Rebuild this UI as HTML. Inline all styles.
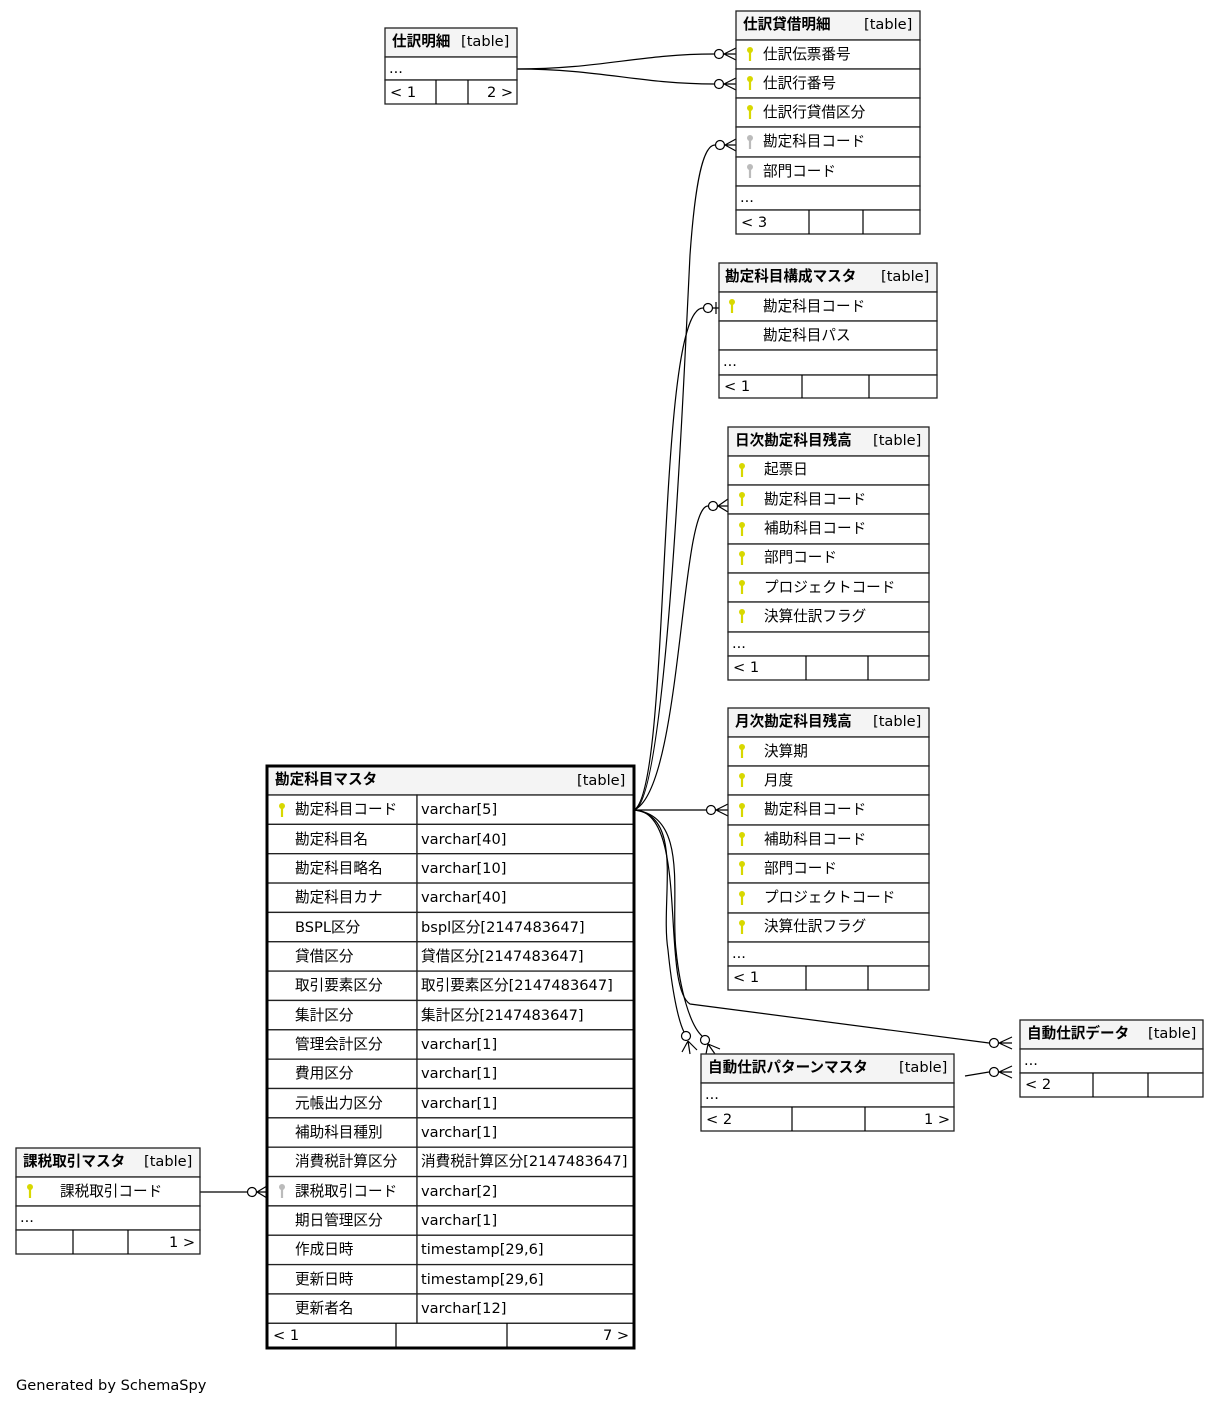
<!DOCTYPE html>
<html><head><meta charset="utf-8"><style>
html,body{margin:0;padding:0;background:#fff;width:1220px;height:1405px;overflow:hidden}
svg{display:block}
text{font-family:"DejaVu Sans","Liberation Sans","Noto Sans CJK JP",sans-serif;font-size:14.6px;fill:#000}
.b{font-weight:bold}
.ln{stroke:#000;stroke-width:1.2;fill:none}
.bx{fill:#fff;stroke:#222;stroke-width:1.3}
.hd{fill:#f4f4f4;stroke:#222;stroke-width:1.3}
</style></head><body>
<svg width="1220" height="1405" viewBox="0 0 1220 1405" xmlns="http://www.w3.org/2000/svg">
<defs>
<g id="ky"><circle cx="0" cy="-4" r="3" fill="#d8d800"/><rect x="-1.1" y="-3" width="2.2" height="10" fill="#d8d800"/></g>
<g id="kg"><circle cx="0" cy="-4" r="3" fill="#bbb"/><rect x="-1.1" y="-3" width="2.2" height="10" fill="#bbb"/></g>
</defs>

<g class="ln">
<path d="M517,69 C600,69 640,54 714,54"/>
<path d="M517,69 C600,69 640,84 714,84"/>
<path d="M634,810 C665,805 682,420 690,255 C696,170 705,145 715,145"/>
<path d="M634,810 C672,790 655,308 703,308"/>
<path d="M634,810 C682,790 680,506 708,506"/>
<path d="M634,810 L706,810"/>
<path d="M634,810 C690,810 660,985 690,1004 L989,1043"/>
<path d="M634,810 C685,815 660,900 668,950 C672,990 678,1020 684,1032"/>
<path d="M634,810 C690,815 670,900 676,950 C680,990 690,1025 702,1036"/>
<path d="M965,1076 L989,1072"/>
<path d="M200,1192 L247,1192"/>
</g>
<g fill="#fff" stroke="#000" stroke-width="1.2">
<circle cx="719" cy="54" r="4.5"/><circle cx="719" cy="84" r="4.5"/><circle cx="720" cy="145" r="4.5"/>
<circle cx="708" cy="308" r="4.5"/><circle cx="713" cy="506" r="4.5"/><circle cx="711" cy="810" r="4.5"/>
<circle cx="994" cy="1043" r="4.5"/><circle cx="994" cy="1072" r="4.5"/><circle cx="686" cy="1036" r="4.5"/>
<circle cx="705" cy="1040" r="4.5"/><circle cx="252" cy="1192" r="4.5"/>
</g>
<g class="ln" stroke-width="1.5">
<path d="M724,54 L736,48 M724,54 L736,54 M724,54 L736,60"/>
<path d="M724,84 L736,78 M724,84 L736,84 M724,84 L736,90"/>
<path d="M725,145 L736,139 M725,145 L736,145 M725,145 L736,151"/>
<path d="M713,308 L719,308 M716,302 L716,314"/>
<path d="M718,506 L728,499 M718,506 L728,506 M718,506 L728,512"/>
<path d="M716,810 L728,804 M716,810 L728,810 M716,810 L728,816"/>
<path d="M999,1043 L1012,1037 M999,1043 L1012,1043 M999,1043 L1012,1049"/>
<path d="M999,1072 L1012,1066 M999,1072 L1012,1072 M999,1072 L1012,1078"/>
<path d="M688,1041 L690,1054 M688,1041 L682,1052 M688,1041 L697,1050"/>
<path d="M708,1044 L715,1054 M708,1044 L706,1054 M708,1044 L720,1049"/>
<path d="M257,1192 L267,1186 M257,1192 L267,1192 M257,1192 L267,1198"/>
</g>

<rect class="hd" x="385" y="28" width="132" height="29"/>
<text class="b" x="392" y="46">仕訳明細</text><text x="461" y="46">[table]</text>
<rect class="bx" x="385" y="57" width="132" height="23"/><text x="389" y="73">...</text>
<rect class="bx" x="385" y="80" width="132" height="24"/><path class="ln" d="M436,80V104M468,80V104"/>
<text x="390" y="97">&lt; 1</text><text x="487" y="97">2 &gt;</text>

<rect class="hd" x="736" y="11" width="184" height="29"/>
<text class="b" x="743" y="29">仕訳貸借明細</text><text x="864" y="29">[table]</text>
<rect class="bx" x="736" y="40" width="184" height="29"/><use href="#ky" x="750" y="54"/><text x="763" y="59">仕訳伝票番号</text>
<rect class="bx" x="736" y="69" width="184" height="29"/><use href="#ky" x="750" y="83"/><text x="763" y="88">仕訳行番号</text>
<rect class="bx" x="736" y="98" width="184" height="29"/><use href="#ky" x="750" y="112"/><text x="763" y="117">仕訳行貸借区分</text>
<rect class="bx" x="736" y="127" width="184" height="30"/><use href="#kg" x="750" y="142"/><text x="763" y="146">勘定科目コード</text>
<rect class="bx" x="736" y="157" width="184" height="29"/><use href="#kg" x="750" y="171"/><text x="763" y="176">部門コード</text>
<rect class="bx" x="736" y="186" width="184" height="24"/><text x="740" y="202">...</text>
<rect class="bx" x="736" y="210" width="184" height="24"/><path class="ln" d="M809,210V234M863,210V234"/><text x="741" y="227">&lt; 3</text>

<rect class="hd" x="719" y="263" width="218" height="29"/>
<text class="b" x="725" y="281">勘定科目構成マスタ</text><text x="881" y="281">[table]</text>
<rect class="bx" x="719" y="292" width="218" height="29"/><use href="#ky" x="732" y="306"/><text x="763" y="311">勘定科目コード</text>
<rect class="bx" x="719" y="321" width="218" height="29"/><text x="763" y="340">勘定科目パス</text>
<rect class="bx" x="719" y="350" width="218" height="25"/><text x="723" y="366">...</text>
<rect class="bx" x="719" y="375" width="218" height="23"/><path class="ln" d="M802,375V398M869,375V398"/><text x="724" y="391">&lt; 1</text>

<rect class="hd" x="728" y="427" width="201" height="29"/>
<text class="b" x="735" y="445">日次勘定科目残高</text><text x="873" y="445">[table]</text>
<rect class="bx" x="728" y="456" width="201" height="29"/><use href="#ky" x="742" y="470"/><text x="764" y="474">起票日</text>
<rect class="bx" x="728" y="485" width="201" height="29"/><use href="#ky" x="742" y="499"/><text x="764" y="504">勘定科目コード</text>
<rect class="bx" x="728" y="514" width="201" height="30"/><use href="#ky" x="742" y="529"/><text x="764" y="533">補助科目コード</text>
<rect class="bx" x="728" y="544" width="201" height="29"/><use href="#ky" x="742" y="558"/><text x="764" y="562">部門コード</text>
<rect class="bx" x="728" y="573" width="201" height="29"/><use href="#ky" x="742" y="587"/><text x="764" y="592">プロジェクトコード</text>
<rect class="bx" x="728" y="602" width="201" height="30"/><use href="#ky" x="742" y="616"/><text x="764" y="621">決算仕訳フラグ</text>
<rect class="bx" x="728" y="632" width="201" height="24"/><text x="732" y="648">...</text>
<rect class="bx" x="728" y="656" width="201" height="24"/><path class="ln" d="M806,656V680M868,656V680"/><text x="733" y="672">&lt; 1</text>

<rect class="hd" x="728" y="708" width="201" height="29"/>
<text class="b" x="735" y="726">月次勘定科目残高</text><text x="873" y="726">[table]</text>
<rect class="bx" x="728" y="737" width="201" height="29"/><use href="#ky" x="742" y="751"/><text x="764" y="756">決算期</text>
<rect class="bx" x="728" y="766" width="201" height="29"/><use href="#ky" x="742" y="780"/><text x="764" y="785">月度</text>
<rect class="bx" x="728" y="795" width="201" height="30"/><use href="#ky" x="742" y="810"/><text x="764" y="814">勘定科目コード</text>
<rect class="bx" x="728" y="825" width="201" height="29"/><use href="#ky" x="742" y="839"/><text x="764" y="844">補助科目コード</text>
<rect class="bx" x="728" y="854" width="201" height="29"/><use href="#ky" x="742" y="868"/><text x="764" y="873">部門コード</text>
<rect class="bx" x="728" y="883" width="201" height="30"/><use href="#ky" x="742" y="898"/><text x="764" y="902">プロジェクトコード</text>
<rect class="bx" x="728" y="913" width="201" height="29"/><use href="#ky" x="742" y="927"/><text x="764" y="931">決算仕訳フラグ</text>
<rect class="bx" x="728" y="942" width="201" height="24"/><text x="732" y="958">...</text>
<rect class="bx" x="728" y="966" width="201" height="24"/><path class="ln" d="M806,966V990M868,966V990"/><text x="733" y="982">&lt; 1</text>

<rect class="hd" x="1020" y="1020" width="183" height="29"/>
<text class="b" x="1027" y="1038">自動仕訳データ</text><text x="1148" y="1038">[table]</text>
<rect class="bx" x="1020" y="1049" width="183" height="24"/><text x="1024" y="1065">...</text>
<rect class="bx" x="1020" y="1073" width="183" height="24"/><path class="ln" d="M1093,1073V1097M1148,1073V1097"/><text x="1025" y="1089">&lt; 2</text>

<rect class="hd" x="701" y="1054" width="253" height="29"/>
<text class="b" x="708" y="1072">自動仕訳パターンマスタ</text><text x="899" y="1072">[table]</text>
<rect class="bx" x="701" y="1083" width="253" height="24"/><text x="705" y="1099">...</text>
<rect class="bx" x="701" y="1107" width="253" height="24"/><path class="ln" d="M792,1107V1131M865,1107V1131"/><text x="706" y="1124">&lt; 2</text><text x="924" y="1124">1 &gt;</text>

<rect class="hd" x="16" y="1148" width="184" height="29"/>
<text class="b" x="23" y="1166">課税取引マスタ</text><text x="144" y="1166">[table]</text>
<rect class="bx" x="16" y="1177" width="184" height="29"/><use href="#ky" x="30" y="1191"/><text x="60" y="1196">課税取引コード</text>
<rect class="bx" x="16" y="1206" width="184" height="24"/><text x="20" y="1222">...</text>
<rect class="bx" x="16" y="1230" width="184" height="24"/><path class="ln" d="M73,1230V1254M128,1230V1254"/><text x="169" y="1247">1 &gt;</text>

<rect class="hd" x="267" y="766" width="367" height="29"/>
<text class="b" x="275" y="784">勘定科目マスタ</text><text x="577" y="785">[table]</text>
<g>
<rect class="bx" x="267" y="795" width="150" height="29.35"/><rect class="bx" x="417" y="795" width="217" height="29.35"/>
<rect class="bx" x="267" y="824.35" width="150" height="29.35"/><rect class="bx" x="417" y="824.35" width="217" height="29.35"/>
<rect class="bx" x="267" y="853.7" width="150" height="29.35"/><rect class="bx" x="417" y="853.7" width="217" height="29.35"/>
<rect class="bx" x="267" y="883.05" width="150" height="29.35"/><rect class="bx" x="417" y="883.05" width="217" height="29.35"/>
<rect class="bx" x="267" y="912.4" width="150" height="29.35"/><rect class="bx" x="417" y="912.4" width="217" height="29.35"/>
<rect class="bx" x="267" y="941.75" width="150" height="29.35"/><rect class="bx" x="417" y="941.75" width="217" height="29.35"/>
<rect class="bx" x="267" y="971.1" width="150" height="29.35"/><rect class="bx" x="417" y="971.1" width="217" height="29.35"/>
<rect class="bx" x="267" y="1000.45" width="150" height="29.35"/><rect class="bx" x="417" y="1000.45" width="217" height="29.35"/>
<rect class="bx" x="267" y="1029.8" width="150" height="29.35"/><rect class="bx" x="417" y="1029.8" width="217" height="29.35"/>
<rect class="bx" x="267" y="1059.15" width="150" height="29.35"/><rect class="bx" x="417" y="1059.15" width="217" height="29.35"/>
<rect class="bx" x="267" y="1088.5" width="150" height="29.35"/><rect class="bx" x="417" y="1088.5" width="217" height="29.35"/>
<rect class="bx" x="267" y="1117.85" width="150" height="29.35"/><rect class="bx" x="417" y="1117.85" width="217" height="29.35"/>
<rect class="bx" x="267" y="1147.2" width="150" height="29.35"/><rect class="bx" x="417" y="1147.2" width="217" height="29.35"/>
<rect class="bx" x="267" y="1176.55" width="150" height="29.35"/><rect class="bx" x="417" y="1176.55" width="217" height="29.35"/>
<rect class="bx" x="267" y="1205.9" width="150" height="29.35"/><rect class="bx" x="417" y="1205.9" width="217" height="29.35"/>
<rect class="bx" x="267" y="1235.25" width="150" height="29.35"/><rect class="bx" x="417" y="1235.25" width="217" height="29.35"/>
<rect class="bx" x="267" y="1264.6" width="150" height="29.35"/><rect class="bx" x="417" y="1264.6" width="217" height="29.35"/>
<rect class="bx" x="267" y="1293.95" width="150" height="29.35"/><rect class="bx" x="417" y="1293.95" width="217" height="29.35"/>
<rect class="bx" x="267" y="1323.3" width="367" height="24.7"/>
</g>
<path class="ln" d="M396,1323V1348M507,1323V1348"/>
<rect x="267" y="766" width="367" height="582" fill="none" stroke="#000" stroke-width="3"/>
<use href="#ky" x="282" y="810"/><use href="#kg" x="282" y="1191"/>
<g>
<text x="295" y="814">勘定科目コード</text><text x="421" y="814">varchar[5]</text>
<text x="295" y="844">勘定科目名</text><text x="421" y="844">varchar[40]</text>
<text x="295" y="873">勘定科目略名</text><text x="421" y="873">varchar[10]</text>
<text x="295" y="902">勘定科目カナ</text><text x="421" y="902">varchar[40]</text>
<text x="295" y="932">BSPL区分</text><text x="421" y="932">bspl区分[2147483647]</text>
<text x="295" y="961">貸借区分</text><text x="421" y="961">貸借区分[2147483647]</text>
<text x="295" y="990">取引要素区分</text><text x="421" y="990">取引要素区分[2147483647]</text>
<text x="295" y="1020">集計区分</text><text x="421" y="1020">集計区分[2147483647]</text>
<text x="295" y="1049">管理会計区分</text><text x="421" y="1049">varchar[1]</text>
<text x="295" y="1078">費用区分</text><text x="421" y="1078">varchar[1]</text>
<text x="295" y="1108">元帳出力区分</text><text x="421" y="1108">varchar[1]</text>
<text x="295" y="1137">補助科目種別</text><text x="421" y="1137">varchar[1]</text>
<text x="295" y="1166">消費税計算区分</text><text x="421" y="1166">消費税計算区分[2147483647]</text>
<text x="295" y="1196">課税取引コード</text><text x="421" y="1196">varchar[2]</text>
<text x="295" y="1225">期日管理区分</text><text x="421" y="1225">varchar[1]</text>
<text x="295" y="1254">作成日時</text><text x="421" y="1254">timestamp[29,6]</text>
<text x="295" y="1284">更新日時</text><text x="421" y="1284">timestamp[29,6]</text>
<text x="295" y="1313">更新者名</text><text x="421" y="1313">varchar[12]</text>
<text x="273" y="1340">&lt; 1</text><text x="603" y="1340">7 &gt;</text>
</g>

<text x="16" y="1390">Generated by SchemaSpy</text>
</svg>
</body></html>
